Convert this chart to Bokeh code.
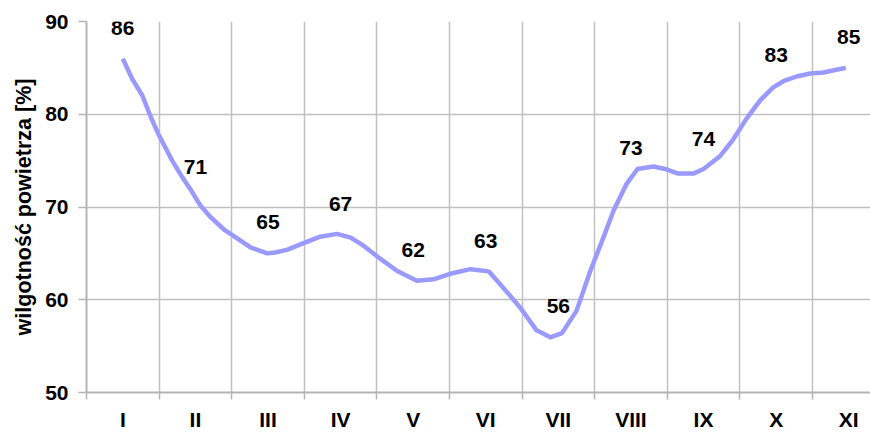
from bokeh.plotting import figure
from bokeh.models import FixedTicker, Range1d, ColumnDataSource
from bokeh.core.properties import value
from bokeh.embed import file_html
from bokeh.resources import INLINE

# ---- data ----
months = ["I", "II", "III", "IV", "V", "VI", "VII", "VIII", "IX", "X", "XI"]
month_pos = list(range(1, 12))
month_labels = [86, 71, 65, 67, 62, 63, 56, 73, 74, 83, 85]

# humidity curve (position in months, value in %)
curve_month = [1.00, 1.13, 1.27, 1.385, 1.50, 1.68, 1.82, 1.94, 2.07, 2.21,
               2.39, 2.58, 2.76, 2.99, 3.10, 3.27, 3.49, 3.72, 3.95, 4.14,
               4.32, 4.55, 4.78, 5.05, 5.28, 5.51, 5.79, 6.04, 6.24, 6.47,
               6.70, 6.89, 7.05, 7.25, 7.44, 7.62, 7.76, 7.94, 8.09, 8.31,
               8.47, 8.65, 8.86, 9.00, 9.23, 9.41, 9.59, 9.78, 9.96, 10.10,
               10.28, 10.47, 10.65, 10.83, 10.96]
curve_values = [85.98, 83.8, 82.0, 79.7, 77.7, 75.0, 73.2, 71.8, 70.15, 68.9,
                67.6, 66.6, 65.65, 65.0, 65.1, 65.4, 66.1, 66.8, 67.1, 66.7,
                65.8, 64.4, 63.1, 62.05, 62.2, 62.8, 63.3, 63.06, 61.3, 59.2,
                56.7, 55.95, 56.4, 58.8, 63.1, 66.7, 69.6, 72.5, 74.1, 74.36,
                74.1, 73.6, 73.6, 74.1, 75.5, 77.3, 79.5, 81.5, 82.9, 83.56,
                84.07, 84.4, 84.5, 84.8, 85.0]
y_ticks = [50, 60, 70, 80, 90]
y_title = "wilgotność powietrza [%]"

FONT = "Liberation Sans"
GRID = "#c0c0c0"
AXIS = "#b4b4b4"

p = figure(width=870, height=433,
           x_range=Range1d(0.5, 11.30), y_range=Range1d(50, 90),
           output_backend="svg", toolbar_location=None,
           min_border_left=86, min_border_top=21, min_border_right=0,
           min_border_bottom=41)
p.outline_line_color = None
p.background_fill_color = "white"
p.border_fill_color = "white"

# x axis: labels at month centres, ticks / grid at month boundaries
xt = FixedTicker(ticks=month_pos,
                 minor_ticks=[m - 0.5 for m in month_pos] + [month_pos[-1] + 0.5])
p.xaxis.ticker = xt
p.xgrid.ticker = xt
p.xaxis.major_label_overrides = {m: lab for m, lab in zip(month_pos, months)}
p.xaxis.major_tick_out = 0
p.xaxis.major_tick_in = 0
p.xaxis.minor_tick_out = 7
p.xaxis.minor_tick_in = 0
p.xaxis.minor_tick_line_color = AXIS
p.xaxis.minor_tick_line_width = 1.5
p.xaxis.axis_line_color = AXIS
p.xaxis.axis_line_width = 2
p.xaxis.major_label_standoff = 8
p.xaxis.major_label_text_font = FONT
p.xaxis.major_label_text_font_style = "bold"
p.xaxis.major_label_text_font_size = "21px"
p.xaxis.major_label_text_color = "black"
p.xgrid.grid_line_color = None
p.xgrid.minor_grid_line_color = GRID
p.xgrid.minor_grid_line_width = 1.5

# y axis
yt = FixedTicker(ticks=y_ticks)
p.yaxis.ticker = yt
p.ygrid.ticker = yt
p.yaxis.major_tick_out = 8
p.yaxis.major_tick_in = 0
p.yaxis.minor_tick_line_color = None
p.yaxis.major_tick_line_color = AXIS
p.yaxis.major_tick_line_width = 1.5
p.yaxis.axis_line_color = AXIS
p.yaxis.axis_line_width = 2
p.yaxis.major_label_standoff = 10
p.yaxis.major_label_text_font = FONT
p.yaxis.major_label_text_font_style = "bold"
p.yaxis.major_label_text_font_size = "21px"
p.yaxis.major_label_text_color = "black"
p.yaxis.axis_label = y_title
p.yaxis.axis_label_text_font = FONT
p.yaxis.axis_label_text_font_style = "bold"
p.yaxis.axis_label_text_font_size = "21.5px"
p.yaxis.axis_label_text_color = "black"
p.yaxis.axis_label_standoff = 6
p.ygrid.grid_line_color = GRID
p.ygrid.grid_line_width = 1.5

# curve
p.line(curve_month, curve_values, line_color="#9999ff", line_width=4.5,
       line_join="round", line_cap="butt")

# data labels
src = ColumnDataSource(dict(x=month_pos, y=month_labels,
                            t=[str(v) for v in month_labels]))
p.text(x="x", y="y", text="t", source=src,
       text_font=value(FONT), text_font_style="bold", text_font_size="21px",
       text_color="black", text_align="center", text_baseline="alphabetic",
       y_offset=-31)

open("out.html", "w").write(file_html(p, INLINE))
